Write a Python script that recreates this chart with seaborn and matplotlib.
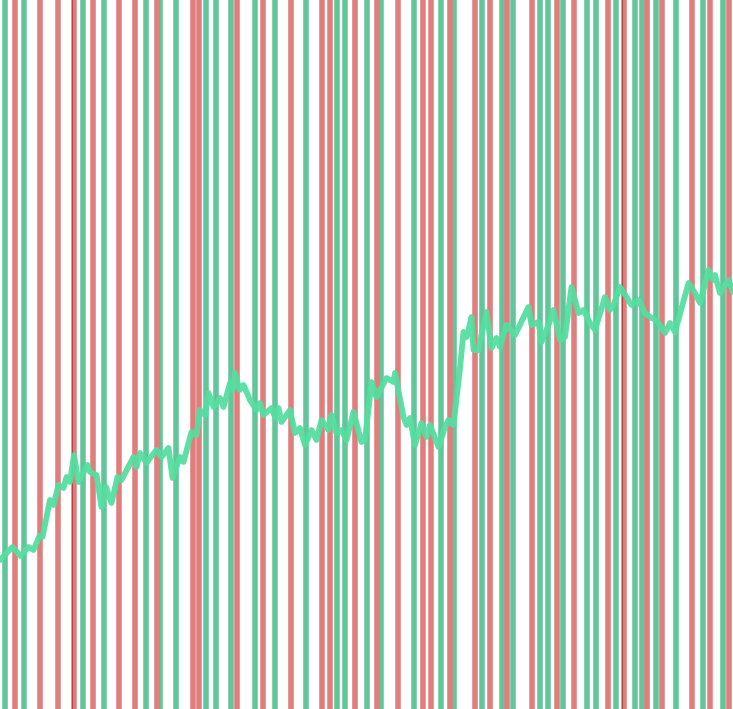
# ==========================================
# Price line over up / down day markers
# ==========================================

import matplotlib
matplotlib.use("Agg")

import pandas as pd
import matplotlib.pyplot as plt
import seaborn as sns

# ==========================================
# Data
# ==========================================

day = [
    0, 2.5, 4.1, 5.7, 6.7, 7.9, 8.5, 10, 10.7, 11.7,
    12.7, 13.3, 14, 14.8, 15.7, 17.5, 18, 19.3, 20.3, 21.2,
    22.3, 23.5, 24.3, 26.7, 27.3, 28, 29.3, 30, 31.3, 32.3,
    33.7, 34.5, 36, 36.7, 38.3, 39.3, 40, 41, 41.7, 42.7,
    44, 44.7, 46, 46.5, 47, 47.9, 48.7, 50, 51.3, 52,
    52.7, 54.3, 55, 55.7, 56.3, 58, 59, 60, 61, 62.3,
    63.3, 64.3, 65.7, 66.3, 67.3, 68.3, 69.3, 70.7, 72.3, 73,
    74.3, 75.3, 77.3, 78.7, 79, 80.7, 81.3, 82, 83, 84.3,
    85.3, 86, 87.7, 89, 89.7, 90.7, 92, 92.7, 93.3, 93.7,
    94.3, 94.7, 95.7, 96.3, 97.3, 98.3, 99.3, 100, 101.3, 103,
    105.7, 106.3, 107.7, 108.3, 109.7, 110.7, 112, 113, 114.3, 115.7,
    116.7, 118, 119, 121, 122, 122.7, 124, 125.3, 126.3, 127.7,
    129, 130.3, 131.3, 133, 134, 135, 137.7, 139, 140, 141.7,
    142.7, 143, 144, 145.7, 146.6,
]

price = [
    29.8, 32.4, 30.6, 32.4, 31.8, 34.6, 34.4, 41.8, 40.8, 44.8,
    44.2, 46.4, 45.4, 50.8, 45.4, 48.8, 47.4, 46.8, 40.4, 44.4,
    41.2, 46.4, 45.8, 50.4, 48.4, 51.2, 49.2, 50.2, 51.8, 50.4,
    52.2, 46.2, 50.4, 49.4, 55.4, 54.8, 59.8, 58.8, 63.2, 60.4,
    62.2, 60.4, 65.2, 63.8, 67.2, 63.8, 64.8, 61.8, 59.8, 61.2,
    58.8, 60.2, 58.4, 60.2, 57.4, 59.8, 55.2, 56.2, 52.8, 55.8,
    53.8, 57.8, 55.8, 58.8, 55.2, 55.8, 53.8, 59.4, 53.4, 53.8,
    65.4, 62.4, 66.2, 65.4, 67.2, 58.4, 56.8, 58.2, 52.8, 57.2,
    54.4, 56.8, 52.4, 56.4, 57.8, 56.8, 68.2, 75.4, 74.4, 75.8,
    78.4, 71.8, 71.8, 74.8, 79.4, 72.2, 74.2, 72.4, 76.8, 74.8,
    80.4, 76.8, 77.4, 73.4, 76.8, 79.8, 73.8, 74.4, 84.4, 79.2,
    79.8, 77.2, 75.8, 82.4, 79.8, 80.8, 84.4, 82.4, 80.8, 81.8,
    79.2, 78.2, 77.8, 75.2, 77.2, 75.4, 85.2, 83.2, 81.2, 87.8,
    85.8, 86.8, 83.2, 85.8, 83.4,
]

# Days closing up / down (marker positions)
up_days = [
    0.9, 4.7, 16.5, 20.7, 29.1, 32.0, 35.1, 41.1, 43.1, 46.1,
    50.9, 54.9, 61.1, 67.3, 68.9, 73.3, 76.2, 82.7, 88.1, 90.8,
    96.4, 100.3, 102.6, 107.9, 109.5, 112.5, 117.3, 119.1, 123.1, 126.9,
    128.3, 131.1, 135.1, 140.5, 144.5,
]

down_days = [
    2.9, 7.9, 11.5, 14.7, 18.5, 23.7, 26.9, 31.3, 38.5, 39.7,
    47.3, 52.5, 58.1, 64.3, 65.9, 70.9, 75.3, 79.5, 84.5, 86.1,
    89.9, 94.9, 97.9, 101.4, 106.3, 111.3, 114.7, 121.5, 124.7, 129.3,
    132.4, 138.3, 141.9, 145.8,
]

# Thin darker markers
event_days = [14.3, 124.3]

line_df = pd.DataFrame({"day": day, "price": price})

# ==========================================
# Plot
# ==========================================

sns.set_style("white")

fig = plt.figure(figsize=(7.33, 7.09), dpi=100)
ax = fig.add_axes([0, 0, 1, 1])

for d in up_days:
    ax.axvline(d, color="#62c69a", linewidth=4.0, zorder=1)

for d in down_days:
    ax.axvline(d, color="#e07e7e", linewidth=4.0, zorder=1)

for d in event_days:
    ax.axvline(d, color="#a83636", linewidth=0.8, alpha=0.8, zorder=2)

sns.lineplot(
    data=line_df,
    x="day",
    y="price",
    color="#55dea0",
    linewidth=4.2,
    alpha=0.95,
    sort=False,
    ax=ax,
    zorder=3
)

ax.set_xlim(0, 146.6)
ax.set_ylim(0, 141.8)
ax.set_xlabel("")
ax.set_ylabel("")
ax.set_xticks([])
ax.set_yticks([])
sns.despine(ax=ax, left=True, bottom=True)

fig.savefig("out.png", dpi=100)
